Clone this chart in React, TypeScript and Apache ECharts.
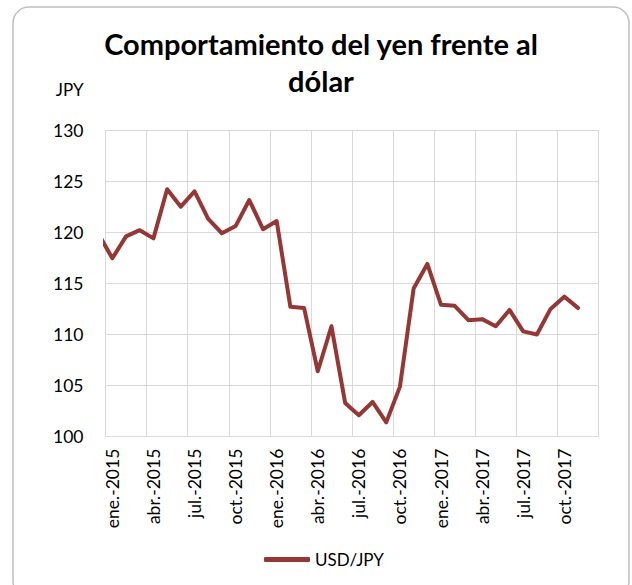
import React, { useEffect, useRef } from "react";
import * as echarts from "echarts";

const monthNames = ["ene.", "feb.", "mar.", "abr.", "may.", "jun.", "jul.", "ago.", "sep.", "oct.", "nov.", "dic."];
const years = [2015, 2016, 2017];
const categories = years.flatMap((y) => monthNames.map((m) => `${m}-${y}`));

// month-end USD/JPY, starting with dic.-2014 (only its segment edge is visible)
const prevValue = 119.8;
const values2015 = [117.45, 119.6, 120.2, 119.4, 124.2, 122.5, 124.0, 121.3, 119.9, 120.6, 123.15, 120.3];
const values2016 = [121.1, 112.7, 112.6, 106.4, 110.8, 103.3, 102.1, 103.4, 101.4, 104.9, 114.5, 116.9];
const values2017 = [112.9, 112.8, 111.4, 111.5, 110.8, 112.4, 110.3, 110.0, 112.5, 113.7, 112.6];

const yTicks = { min: 100, max: 130, interval: 5 };
const FONT = "Lato";

export default function App() {
  const ref = useRef<HTMLDivElement>(null);
  useEffect(() => {
    if (!ref.current) return;
    const chart = echarts.init(ref.current, undefined, { renderer: "svg" });
    const vals = [prevValue, ...values2015, ...values2016, ...values2017];
    const data = vals.map((v, i) => [i - 0.5, v]);
    chart.setOption({
      animation: false,
      backgroundColor: "#ffffff",
      title: {
        text: "Comportamiento del yen frente al\ndólar",
        left: 316,
        top: 20,
        textAlign: "center",
        textStyle: { fontFamily: FONT, fontWeight: "bold", fontSize: 29, lineHeight: 37, color: "#000" },
      },
      graphic: [
        {
          type: "rect",
          shape: { x: 13, y: 7, width: 616, height: 590, r: 16 },
          style: { fill: "none", stroke: "#bfbfbf", lineWidth: 1.5 },
          silent: true,
          z: -1,
        },
      ],
      legend: {
        data: ["USD/JPY"],
        left: 259,
        top: 546,
        icon: "roundRect",
        itemWidth: 46,
        itemHeight: 5,
        itemGap: 4,
        textStyle: { fontFamily: FONT, fontSize: 17, color: "#000" },
      },
      grid: { left: 105.5, right: 33.5, top: 130, bottom: 148.3, containLabel: false },
      xAxis: [
        {
          type: "category",
          position: "bottom",
          data: categories,
          boundaryGap: true,
          axisLine: { show: false },
          axisTick: { show: false },
          splitLine: { show: false },
          axisLabel: {
            interval: 2,
            rotate: 90,
            margin: 12,
            padding: [6, 0, 0, 0],
            fontFamily: FONT,
            fontSize: 17.5,
            color: "#000",
          },
        },
        {
          type: "value",
          position: "bottom",
          min: 0,
          max: 36,
          interval: 3,
          axisLabel: { show: false },
          axisTick: { show: false },
          axisLine: { show: true, lineStyle: { color: "#d9d9d9", width: 1 } },
          splitLine: { show: true, lineStyle: { color: "#d9d9d9", width: 1 } },
        },
      ],
      yAxis: {
        type: "value",
        min: yTicks.min,
        max: yTicks.max,
        interval: yTicks.interval,
        name: "JPY",
        nameLocation: "end",
        nameGap: 32,
        nameTextStyle: {
          fontFamily: FONT,
          fontSize: 17,
          color: "#000",
          align: "right",
          verticalAlign: "bottom",
          padding: [0, 22, 0, 0],
        },
        axisLine: { show: false },
        axisTick: { show: false },
        splitLine: { show: true, lineStyle: { color: "#d9d9d9", width: 1 } },
        axisLabel: { margin: 22, fontFamily: FONT, fontSize: 17.5, color: "#000" },
      },
      series: [
        {
          name: "USD/JPY",
          type: "line",
          xAxisIndex: 1,
          data,
          symbol: "none",
          showSymbol: false,
          clip: true,
          lineStyle: { color: "#953735", width: 4, join: "round", cap: "round" },
          itemStyle: { color: "#953735" },
        },
      ],
    });
    return () => chart.dispose();
  }, []);
  return <div ref={ref} style={{ position: "fixed", left: 0, top: 0, width: 632, height: 585 }} />;
}
